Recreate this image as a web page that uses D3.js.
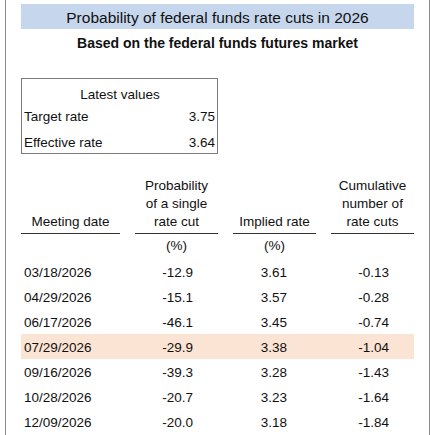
<!DOCTYPE html>
<html>
<head>
<meta charset="utf-8">
<script src="https://cdn.jsdelivr.net/npm/d3@7"></script>
<style>
  html, body { margin: 0; padding: 0; background: #fff; }
  svg text { font-family: "Liberation Sans", Arial, sans-serif; fill: #111; }
</style>
</head>
<body>
<div id="chart"></div>
<script>
// Chart values
const title = 'Probability of federal funds rate cuts in 2026';
const subtitle = 'Based on the federal funds futures market';
const latestLabels = ['Target rate', 'Effective rate'];
const latestValues = [3.75, 3.64];
const meetingDates = ['03/18/2026', '04/29/2026', '06/17/2026', '07/29/2026', '09/16/2026', '10/28/2026', '12/09/2026'];
const probCut = [-12.9, -15.1, -46.1, -29.9, -39.3, -20.7, -20.0];
const impliedRate = [3.61, 3.57, 3.45, 3.38, 3.28, 3.23, 3.18];
const cumCuts = [-0.13, -0.28, -0.74, -1.04, -1.43, -1.64, -1.84];
const headers = [['Meeting date'], ['Probability', 'of a single', 'rate cut'], ['Implied rate'], ['Cumulative', 'number of', 'rate cuts']];
const units = ['', '(%)', '(%)', ''];
const highlightDate = '07/29/2026';

const W = 435, H = 435;
const svg = d3.select('#chart').append('svg')
    .attr('width', W).attr('height', H);

// Outer frame (left and right rules only)
svg.append('line').attr('x1', 5.5).attr('x2', 5.5).attr('y1', 0).attr('y2', H).attr('stroke', '#8a8a8a');
svg.append('line').attr('x1', 429.5).attr('x2', 429.5).attr('y1', 0).attr('y2', H).attr('stroke', '#8a8a8a');

// Title band
svg.append('rect').attr('x', 21).attr('y', 4).attr('width', 393).attr('height', 25).attr('fill', '#c6d7ed');
svg.append('text').attr('x', 217.5).attr('y', 22.5).attr('text-anchor', 'middle')
    .style('font-size', '15.5px').text(title);
svg.append('text').attr('x', 217.5).attr('y', 48).attr('text-anchor', 'middle')
    .style('font-size', '14px').style('font-weight', 'bold').text(subtitle);

// Latest values box
const box = svg.append('g');
box.append('rect').attr('x', 21.5).attr('y', 78.5).attr('width', 196).attr('height', 75)
    .attr('fill', 'none').attr('stroke', '#7a7a7a');
box.append('text').attr('x', 120).attr('y', 99).attr('text-anchor', 'middle')
    .style('font-size', '13.5px').text('Latest values');
const yLatest = d3.scalePoint().domain(latestLabels).range([121, 147]);
box.selectAll('.lab').data(latestLabels).enter().append('text')
    .attr('x', 24).attr('y', d => yLatest(d)).style('font-size', '13.5px').text(d => d);
box.selectAll('.val').data(latestValues).enter().append('text')
    .attr('x', 215).attr('y', (d, i) => yLatest(latestLabels[i])).attr('text-anchor', 'end')
    .style('font-size', '13.5px').text(d => d3.format('.2f')(d));

// Main table
const cols = [
    { x0: 21, x1: 120, anchor: 'start', tx: 24 },
    { x0: 135, x1: 218, anchor: 'end', tx: 193 },
    { x0: 233, x1: 316, anchor: 'end', tx: 287 },
    { x0: 331, x1: 414, anchor: 'end', tx: 389 }
];
const headG = svg.append('g');
headers.forEach((lines, i) => {
    const c = cols[i];
    const cx = (c.x0 + c.x1) / 2;
    lines.forEach((ln, j) => {
        headG.append('text').attr('x', cx).attr('y', 226 - (lines.length - 1 - j) * 18)
            .attr('text-anchor', 'middle').style('font-size', '13.5px').text(ln);
    });
    headG.append('line').attr('x1', c.x0).attr('x2', c.x1).attr('y1', 233.5).attr('y2', 233.5)
        .attr('stroke', '#333').attr('stroke-width', 1);
    if (units[i]) {
        headG.append('text').attr('x', cx).attr('y', 250).attr('text-anchor', 'middle')
            .style('font-size', '13.5px').text(units[i]);
    }
});

const y = d3.scaleBand().domain(meetingDates).range([259, 259 + 25 * meetingDates.length]);

svg.append('rect').attr('x', 21).attr('y', y(highlightDate)).attr('width', 393).attr('height', y.bandwidth())
    .attr('fill', '#fce4d4');

const rows = svg.selectAll('.row').data(meetingDates).enter().append('g')
    .attr('transform', d => `translate(0,${y(d) + 17.5})`);
const fmts = [d => d, d3.format('.1f'), d3.format('.2f'), d3.format('.2f')];
const series = [meetingDates, probCut, impliedRate, cumCuts];
rows.each(function(d, r) {
    const g = d3.select(this);
    series.forEach((s, i) => {
        g.append('text').attr('x', cols[i].tx).attr('text-anchor', cols[i].anchor)
            .style('font-size', '13.5px').text(fmts[i](s[r]).replace('−', '-'));
    });
});
</script>
</body>
</html>
